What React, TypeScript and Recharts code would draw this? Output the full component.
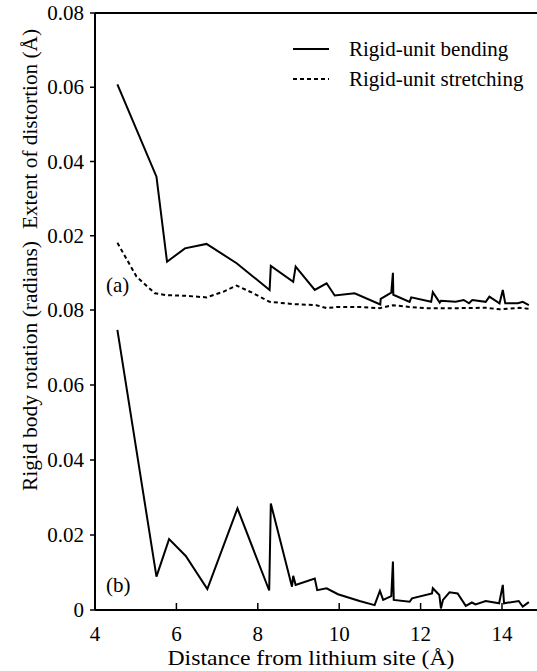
import { LineChart, Line, XAxis, YAxis, ReferenceLine } from "recharts";

// panel (a): rigid-unit bending
const bendDist = [4.55, 5.51, 5.77, 6.21, 6.74, 7.48, 8.29, 8.32, 8.87, 8.93, 9.4, 9.69, 9.89, 10.38, 11.01, 11.02, 11.28, 11.32, 11.33, 11.73, 11.77, 12.26, 12.3, 12.47, 12.5, 12.86, 13.06, 13.19, 13.27, 13.6, 13.69, 13.94, 14.02, 14.08, 14.39, 14.51, 14.66];
const bendVal = [0.0608, 0.0359, 0.013, 0.0166, 0.0178, 0.0126, 0.0054, 0.0119, 0.0076, 0.0117, 0.0054, 0.0072, 0.0039, 0.0045, 0.0015, 0.003, 0.0047, 0.01, 0.0041, 0.0022, 0.0034, 0.0022, 0.0048, 0.002, 0.0025, 0.0022, 0.0027, 0.0018, 0.0027, 0.0022, 0.0036, 0.0018, 0.0054, 0.0018, 0.0018, 0.0022, 0.0013];

// panel (a): rigid-unit stretching
const stretchDist = [4.55, 5.02, 5.47, 5.76, 6.25, 6.74, 7.15, 7.48, 7.89, 8.29, 8.87, 9.44, 9.69, 9.93, 10.5, 11.0, 11.32, 11.73, 12.14, 12.96, 13.6, 13.94, 14.43, 14.66];
const stretchVal = [0.0181, 0.009, 0.0045, 0.004, 0.0038, 0.0034, 0.0049, 0.0066, 0.0045, 0.0022, 0.0016, 0.0013, 0.0005, 0.0008, 0.0008, 0.0005, 0.0013, 0.0008, 0.0005, 0.0005, 0.0006, 0.0002, 0.0006, 0.0003];

// panel (b): rigid body rotation
const rotDist = [4.55, 5.51, 5.82, 6.23, 6.76, 7.5, 8.28, 8.32, 8.84, 8.87, 8.93, 9.4, 9.46, 9.69, 9.97, 10.5, 10.87, 11.0, 11.08, 11.28, 11.32, 11.34, 11.73, 11.79, 12.28, 12.3, 12.46, 12.5, 12.55, 12.71, 12.91, 13.11, 13.26, 13.35, 13.6, 13.93, 14.02, 14.05, 14.41, 14.51, 14.66];
const rotVal = [0.0747, 0.0089, 0.0189, 0.0144, 0.0056, 0.0271, 0.0052, 0.0284, 0.0062, 0.0091, 0.0067, 0.0084, 0.0053, 0.0058, 0.0042, 0.0024, 0.0013, 0.0051, 0.0027, 0.0037, 0.0129, 0.0027, 0.0022, 0.0031, 0.0044, 0.0058, 0.004, 0.0004, 0.0027, 0.0047, 0.0044, 0.0011, 0.002, 0.0015, 0.0024, 0.0018, 0.0067, 0.0018, 0.0024, 0.0009, 0.0021];

const xTicks = [4, 6, 8, 10, 12, 14];
const topYTicks = [0.02, 0.04, 0.06, 0.08];
const bottomYTicks = [0, 0.02, 0.04, 0.06, 0.08];

const toRows = (xs: number[], ys: number[]) => xs.map((d, i) => ({ d, v: ys[i] }));
const bending = toRows(bendDist, bendVal);
const stretching = toRows(stretchDist, stretchVal);
const rotation = toRows(rotDist, rotVal);

const FONT = "Liberation Serif, Times New Roman, serif";
const tickTxt = { fontFamily: FONT, fontSize: 21, fill: "#000" };
const labelTxt = { fontFamily: FONT, fontSize: 22, fill: "#000" };
const fmt = (v: number) => (v === 0 ? "0" : v.toFixed(2));

// x ticks point up into the plot; labels only on the bottom panel
const XTick = (showLabel: boolean) => (props: any) => {
  const { x, y, payload } = props;
  return (
    <g>
      <line x1={x} y1={y} x2={x} y2={y - 7} stroke="#000" strokeWidth={1.5} />
      {showLabel && (
        <text x={x} y={y + 31} textAnchor="middle" style={tickTxt}>
          {payload.value}
        </text>
      )}
    </g>
  );
};

const YTick = (props: any) => {
  const { x, y, payload } = props;
  return (
    <text x={x} y={y + 7} textAnchor="end" style={tickTxt}>
      {fmt(payload.value)}
    </text>
  );
};

const axisLine = { stroke: "#000", strokeWidth: 2 };

export default function App() {
  return (
    <div style={{ position: "absolute", left: 0, top: 0, width: 537, height: 671, background: "#fff" }}>
      <div style={{ position: "absolute", left: 0, top: 0 }}>
        <LineChart width={537} height={313} margin={{ top: 13, right: 0, bottom: 3, left: 0 }}>
          <XAxis
            dataKey="d"
            type="number"
            domain={[4, 14.86]}
            ticks={xTicks}
            allowDataOverflow
            height={0}
            tickSize={0}
            tickMargin={0}
            tickLine={false}
            axisLine={axisLine}
            tick={XTick(false)}
          />
          <YAxis
            type="number"
            domain={[0, 0.08]}
            ticks={topYTicks}
            width={95}
            tickSize={5}
            tickMargin={6}
            tickLine={{ stroke: "#000", strokeWidth: 1.5 }}
            axisLine={axisLine}
            tick={YTick}
          />
          <ReferenceLine y={0.08} stroke="#000" strokeWidth={2} />
          <Line data={stretching} dataKey="v" stroke="#000" strokeWidth={2} strokeDasharray="4 3" dot={false} isAnimationActive={false} />
          <Line data={bending} dataKey="v" stroke="#000" strokeWidth={2} dot={false} isAnimationActive={false} />
        </LineChart>
      </div>
      <div style={{ position: "absolute", left: 0, top: 285 }}>
        <LineChart width={537} height={386} margin={{ top: 25, right: 0, bottom: 0, left: 0 }}>
          <XAxis
            dataKey="d"
            type="number"
            domain={[4, 14.86]}
            ticks={xTicks}
            allowDataOverflow
            height={61}
            tickSize={0}
            tickMargin={0}
            tickLine={false}
            axisLine={axisLine}
            tick={XTick(true)}
          />
          <YAxis
            type="number"
            domain={[0, 0.08]}
            ticks={bottomYTicks}
            width={95}
            tickSize={5}
            tickMargin={6}
            tickLine={{ stroke: "#000", strokeWidth: 1.5 }}
            axisLine={axisLine}
            tick={YTick}
          />
          <Line data={rotation} dataKey="v" stroke="#000" strokeWidth={2} dot={false} isAnimationActive={false} />
        </LineChart>
      </div>
      {/* titles, legend and panel tags */}
      <svg width={537} height={671} style={{ position: "absolute", left: 0, top: 0, pointerEvents: "none" }}>
        <text x={37} y={129} transform="rotate(-90, 37, 129)" textAnchor="middle" style={labelTxt} textLength={200} lengthAdjust="spacingAndGlyphs">
          Extent of distortion (Å)
        </text>
        <text x={37} y={366} transform="rotate(-90, 37, 366)" textAnchor="middle" style={labelTxt} textLength={250} lengthAdjust="spacingAndGlyphs">
          Rigid body rotation (radians)
        </text>
        <text x={311} y={665} textAnchor="middle" style={labelTxt} textLength={287} lengthAdjust="spacingAndGlyphs">
          Distance from lithium site (Å)
        </text>
        <line x1={293} y1={49} x2={329} y2={49} stroke="#000" strokeWidth={2} />
        <text x={349} y={56} style={tickTxt}>Rigid-unit bending</text>
        <line x1={293} y1={79} x2={329} y2={79} stroke="#000" strokeWidth={2} strokeDasharray="4 3" />
        <text x={349} y={86} style={tickTxt}>Rigid-unit stretching</text>
        <text x={106} y={292} style={tickTxt}>(a)</text>
        <text x={106} y={592} style={tickTxt}>(b)</text>
      </svg>
    </div>
  );
}
